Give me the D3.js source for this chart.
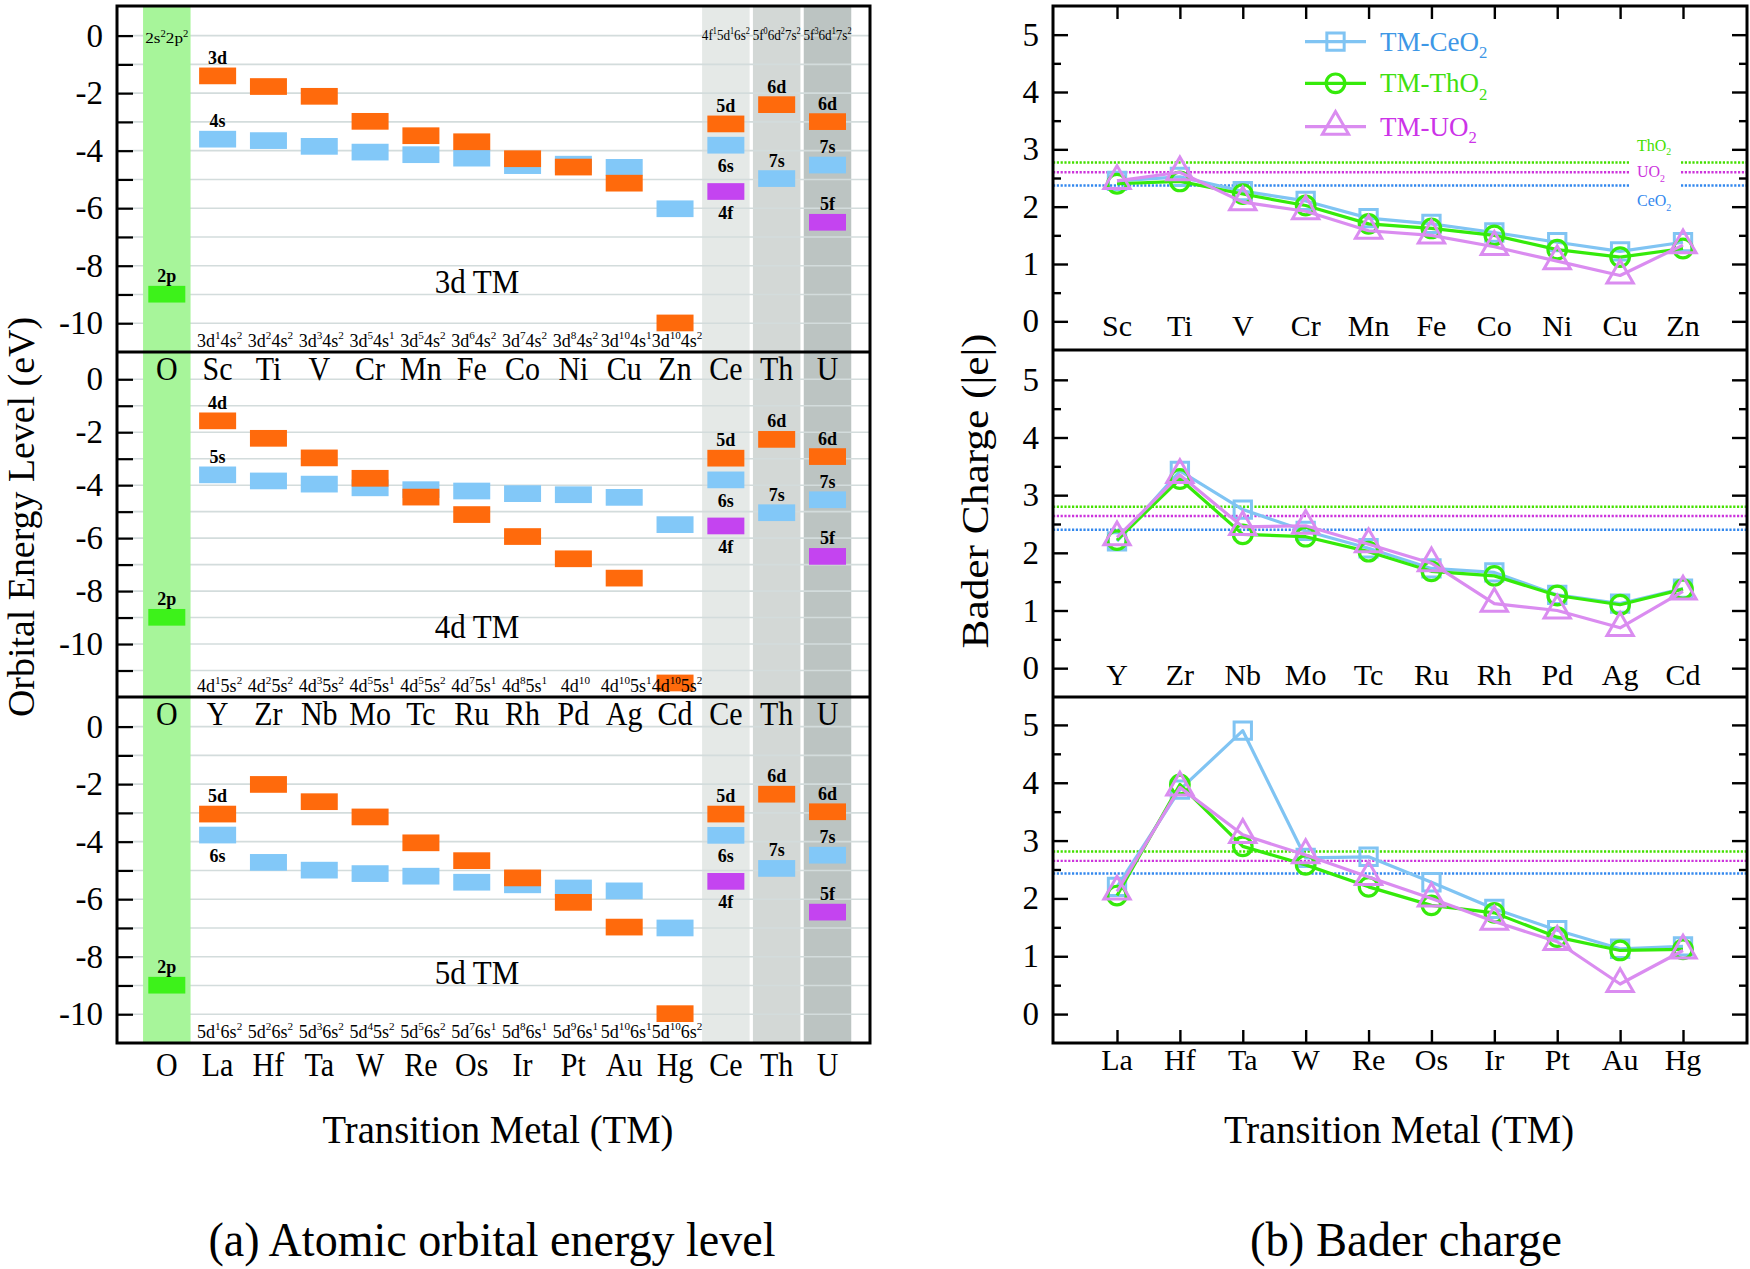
<!DOCTYPE html>
<html><head><meta charset="utf-8">
<script src="https://cdn.jsdelivr.net/npm/d3@7"></script>
<style>
body{margin:0;background:#fff}
text{font-family:"Liberation Serif","Times New Roman",Times,serif;fill:#000}
</style>
</head><body>
<svg id="c" width="1750" height="1269" xmlns="http://www.w3.org/2000/svg"></svg>
<script>
// ================= DATA =================
const cols3d = ["O","Sc","Ti","V","Cr","Mn","Fe","Co","Ni","Cu","Zn","Ce","Th","U"];
const cols4d = ["O","Y","Zr","Nb","Mo","Tc","Ru","Rh","Pd","Ag","Cd","Ce","Th","U"];
const cols5d = ["O","La","Hf","Ta","W","Re","Os","Ir","Pt","Au","Hg","Ce","Th","U"];
const energyTickLabels = [0,-2,-4,-6,-8,-10];

// orbital energies (eV) of the transition metals: d level (orange) and s level (blue)
const e3d_d = [-1.40,-1.77,-2.11,-2.98,-3.48,-3.69,-4.28,-4.57,-5.13,-9.99];
const e3d_s = [-3.60,-3.65,-3.85,-4.05,-4.14,-4.26,-4.52,-4.47,-4.58,-6.02];
const e4d_d = [-1.57,-2.23,-2.97,-3.74,-4.45,-5.11,-5.94,-6.78,-7.51,-11.47];
const e4d_s = [-3.61,-3.84,-3.96,-4.10,-4.17,-4.22,-4.32,-4.36,-4.46,-5.49];
const e5d_d = [-3.04,-2.01,-2.61,-3.14,-4.04,-4.66,-5.26,-6.11,-6.97,-9.98];
const e5d_s = [-3.77,-4.72,-4.99,-5.11,-5.20,-5.41,-5.50,-5.61,-5.71,-7.00];

// electron configurations
const cfg3d = ["3d^{1}4s^{2}","3d^{2}4s^{2}","3d^{3}4s^{2}","3d^{5}4s^{1}","3d^{5}4s^{2}","3d^{6}4s^{2}","3d^{7}4s^{2}","3d^{8}4s^{2}","3d^{10}4s^{1}","3d^{10}4s^{2}"];
const cfg4d = ["4d^{1}5s^{2}","4d^{2}5s^{2}","4d^{3}5s^{2}","4d^{5}5s^{1}","4d^{5}5s^{2}","4d^{7}5s^{1}","4d^{8}5s^{1}","4d^{10}","4d^{10}5s^{1}","4d^{10}5s^{2}"];
const cfg5d = ["5d^{1}6s^{2}","5d^{2}6s^{2}","5d^{3}6s^{2}","5d^{4}5s^{2}","5d^{5}6s^{2}","5d^{7}6s^{1}","5d^{8}6s^{1}","5d^{9}6s^{1}","5d^{10}6s^{1}","5d^{10}6s^{2}"];
const cfgRef = ["2s^{2}2p^{2}","4f^{1}5d^{1}6s^{2}","5f^{0}6d^{2}7s^{2}","5f^{3}6d^{1}7s^{2}"]; // O, Ce, Th, U

// reference atoms, per panel (3d, 4d, 5d rows)
const eO_2p  = [-8.99,-8.99,-8.99];
const eCe_5d = [-3.07,-2.98,-3.04];
const eCe_6s = [-3.81,-3.80,-3.78];
const eCe_4f = [-5.42,-5.54,-5.38];
const eTh_6d = [-2.40,-2.27,-2.35];
const eTh_7s = [-4.97,-5.04,-4.93];
const eU_6d  = [-2.99,-2.92,-2.96];
const eU_7s  = [-4.50,-4.55,-4.47];
const eU_5f  = [-6.49,-6.69,-6.45];

// Bader charges (|e|)
const tm3d = ["Sc","Ti","V","Cr","Mn","Fe","Co","Ni","Cu","Zn"];
const tm4d = ["Y","Zr","Nb","Mo","Tc","Ru","Rh","Pd","Ag","Cd"];
const tm5d = ["La","Hf","Ta","W","Re","Os","Ir","Pt","Au","Hg"];
const bader3d_CeO2 = [2.45,2.52,2.27,2.10,1.80,1.70,1.55,1.38,1.22,1.38];
const bader3d_ThO2 = [2.40,2.44,2.22,2.02,1.70,1.62,1.50,1.25,1.12,1.27];
const bader3d_UO2  = [2.45,2.60,2.08,1.92,1.58,1.50,1.30,1.05,0.80,1.33];
const bader4d_CeO2 = [2.20,3.42,2.75,2.38,2.08,1.73,1.66,1.27,1.12,1.38];
const bader4d_ThO2 = [2.22,3.28,2.32,2.28,2.02,1.68,1.60,1.26,1.10,1.37];
const bader4d_UO2  = [2.27,3.35,2.45,2.47,2.15,1.82,1.12,1.00,0.70,1.33];
const bader5d_CeO2 = [2.20,3.88,4.90,2.70,2.72,2.28,1.82,1.45,1.13,1.17];
const bader5d_ThO2 = [2.05,3.97,2.90,2.58,2.20,1.88,1.75,1.33,1.10,1.12];
const bader5d_UO2  = [2.12,3.92,3.10,2.75,2.37,2.00,1.60,1.25,0.52,1.10];
// bulk oxide cation charge reference lines, per panel
const bulkThO2 = [2.77,2.80,2.81];
const bulkUO2  = [2.60,2.64,2.65];
const bulkCeO2 = [2.37,2.40,2.43];
const baderTicks = [0,1,2,3,4,5];
const legendLabels = ["TM-CeO_{2}","TM-ThO_{2}","TM-UO_{2}"];
const bulkLabels = ["ThO_{2}","UO_{2}","CeO_{2}"];

// ================= STYLE / LAYOUT =================
const C = {
  orange:"#ff6a0c", blue:"#82c8f8", purple:"#c444f0", green2p:"#3df21a",
  bandO:"#a7f59a", bandCe:"#e5e9e7", bandTh:"#d3d8d6", bandU:"#bcc4c2",
  grid:"#d3dcdc",
  sCe:"#80c4f3", sTh:"#35ea0a", sU:"#da8cf0",
  tCe:"#3d97e6", tTh:"#40e010", tU:"#cc33e8",
  rTh:"#44e000", rU:"#cc33dd", rCe:"#3388ee"
};
const svg = d3.select("#c");

function rich(sel, str, fs){
  const re = /\^\{([^}]*)\}|_\{([^}]*)\}|([^\^_]+)/g;
  let m, off = 0;
  while((m = re.exec(str))){
    let t, target, small;
    if(m[1]!==undefined){t=m[1];target=-0.42*fs;small=true;}
    else if(m[2]!==undefined){t=m[2];target=0.28*fs;small=true;}
    else {t=m[3];target=0;small=false;}
    const ts = sel.append("tspan").text(t).attr("dy", target-off);
    if(small) ts.attr("font-size", fs*0.62);
    off = target;
  }
  return sel;
}
// stretch text vertically around its baseline (reference glyphs are taller)
function tall(sel, s){
  const y = +sel.attr("y");
  sel.attr("transform", `matrix(1,0,0,${s},0,${y*(1-s)})`);
  return sel;
}

// ---------- LEFT: orbital energy levels ----------
const LX0 = 117, LX1 = 870;
const xL = d3.scalePoint().domain(d3.range(14)).range([166.8, 827.5]);
const bandW = 47.5, barW = 37, barH = 16.7;
const rows = [
  {top:6, bottom:352, domain:[-11,1.03], nticks:11, cols:cols3d, d:e3d_d, s:e3d_s, cfg:cfg3d, name:"3d TM", dl:"3d", sl:"4s", sBelow:false},
  {top:352, bottom:697, domain:[-12,1.03], nticks:12, cols:cols4d, d:e4d_d, s:e4d_s, cfg:cfg4d, name:"4d TM", dl:"4d", sl:"5s", sBelow:false},
  {top:697, bottom:1043, domain:[-11,1.03], nticks:11, cols:cols5d, d:e5d_d, s:e5d_s, cfg:cfg5d, name:"5d TM", dl:"5d", sl:"6s", sBelow:true}
];
rows.forEach(r => r.y = d3.scaleLinear().domain(r.domain).range([r.bottom, r.top]));

const gL = svg.append("g");
[[11,C.bandCe],[12,C.bandTh],[13,C.bandU]].forEach(([i,c])=>{
  gL.append("rect").attr("x", xL(i)-bandW/2).attr("y", 6).attr("width", bandW).attr("height", 1043-6).attr("fill", c);
});
rows.forEach(r=>{
  d3.range(0, -r.nticks, -1).forEach(v=>{
    gL.append("line").attr("x1", LX0).attr("x2", LX1).attr("y1", r.y(v)).attr("y2", r.y(v))
      .attr("stroke", C.grid).attr("stroke-width", 1.6);
  });
});
gL.append("rect").attr("x", xL(0)-bandW/2).attr("y", 6).attr("width", bandW).attr("height", 1043-6).attr("fill", C.bandO);

function bar(r, i, v, color){
  gL.append("rect").attr("x", xL(i)-barW/2).attr("y", r.y(v)-barH/2).attr("width", barW).attr("height", barH).attr("fill", color);
}
function olabel(r, i, v, txt, below){
  gL.append("text").attr("x", xL(i)).attr("y", r.y(v) + (below ? 27 : -12))
    .attr("text-anchor","middle").attr("font-size",18).attr("font-weight","bold").text(txt);
}

rows.forEach((r, k)=>{
  for(let j=0;j<10;j++){
    bar(r, j+1, r.s[j], C.blue);
    bar(r, j+1, r.d[j], C.orange);
    const t = gL.append("text").attr("x", xL(j+1)+2).attr("y", r.bottom-5).attr("text-anchor","middle").attr("font-size",18);
    rich(t, r.cfg[j], 18);
  }
  olabel(r, 1, r.d[0], r.dl, false);
  olabel(r, 1, r.s[0], r.sl, r.sBelow);
  bar(r, 0, eO_2p[k], C.green2p); olabel(r, 0, eO_2p[k], "2p", false);
  bar(r, 11, eCe_5d[k], C.orange); olabel(r, 11, eCe_5d[k], "5d", false);
  bar(r, 11, eCe_6s[k], C.blue); olabel(r, 11, eCe_6s[k], "6s", true);
  bar(r, 11, eCe_4f[k], C.purple); olabel(r, 11, eCe_4f[k], "4f", true);
  bar(r, 12, eTh_6d[k], C.orange); olabel(r, 12, eTh_6d[k], "6d", false);
  bar(r, 12, eTh_7s[k], C.blue); olabel(r, 12, eTh_7s[k], "7s", false);
  bar(r, 13, eU_6d[k], C.orange); olabel(r, 13, eU_6d[k], "6d", false);
  bar(r, 13, eU_7s[k], C.blue); olabel(r, 13, eU_7s[k], "7s", false);
  bar(r, 13, eU_5f[k], C.purple); olabel(r, 13, eU_5f[k], "5f", false);
  tall(gL.append("text").attr("x", 477).attr("y", r.bottom-59).attr("text-anchor","middle").attr("font-size",31).text(r.name), 1.1);
  const ax = d3.axisLeft(r.y).tickValues(d3.range(0, -r.nticks, -1)).tickSize(-16).tickPadding(14)
    .tickFormat(d => energyTickLabels.includes(d) ? String(d) : "");
  const ga = gL.append("g").attr("transform", `translate(${LX0},0)`).call(ax);
  ga.select(".domain").remove();
  ga.selectAll(".tick line").attr("stroke","#000").attr("stroke-width",2.2);
  ga.selectAll(".tick text").attr("font-size",33).attr("font-family",'"Liberation Serif","Times New Roman",serif');
});
[0,11,12,13].forEach((ci, n)=>{
  const t = gL.append("text").attr("x", xL(ci)).attr("y", n===0 ? 43 : 40).attr("text-anchor","middle").attr("font-size",15)
    .attr("textLength", n===0 ? 43 : 48).attr("lengthAdjust","spacingAndGlyphs");
  rich(t, cfgRef[n], 15);
});
[[cols3d, 380],[cols4d, 725],[cols5d, 1076]].forEach(([cols, yb])=>{
  cols.forEach((c,i)=>{
    tall(gL.append("text").attr("x", xL(i)).attr("y", yb).attr("text-anchor","middle").attr("font-size",30).text(c), 1.12);
  });
});
gL.append("rect").attr("x",LX0).attr("y",6).attr("width",LX1-LX0).attr("height",1043-6).attr("fill","none").attr("stroke","#000").attr("stroke-width",3);
[352,697].forEach(y=>gL.append("line").attr("x1",LX0).attr("x2",LX1).attr("y1",y).attr("y2",y).attr("stroke","#000").attr("stroke-width",3));
gL.append("text").attr("transform","translate(34,517) rotate(-90)").attr("text-anchor","middle").attr("font-size",37)
  .attr("textLength",400).attr("lengthAdjust","spacingAndGlyphs").text("Orbital Energy Level (eV)");
tall(gL.append("text").attr("x",498).attr("y",1143).attr("text-anchor","middle").attr("font-size",37)
  .attr("textLength",351).attr("lengthAdjust","spacingAndGlyphs").text("Transition Metal (TM)"), 1.08);
tall(gL.append("text").attr("x",492).attr("y",1256).attr("text-anchor","middle").attr("font-size",44)
  .attr("textLength",567).attr("lengthAdjust","spacingAndGlyphs").text("(a) Atomic orbital energy level"), 1.08);

// ---------- RIGHT: Bader charge ----------
const RX0 = 1053, RX1 = 1747;
const xR = d3.scalePoint().domain(d3.range(10)).range([1117, 1683]);
const rpanels = [
  {top:6, bottom:350, cats:tm3d, ce:bader3d_CeO2, th:bader3d_ThO2, u:bader3d_UO2, labY:336, topTicks:true, botTicks:false, gap:true},
  {top:351, bottom:697, cats:tm4d, ce:bader4d_CeO2, th:bader4d_ThO2, u:bader4d_UO2, labY:685, topTicks:false, botTicks:false, gap:false},
  {top:696, bottom:1043, cats:tm5d, ce:bader5d_CeO2, th:bader5d_ThO2, u:bader5d_UO2, labY:1070, topTicks:false, botTicks:true, gap:false}
];
const gR = svg.append("g");
const sq = d3.symbol(d3.symbolSquare, 300)();
const tri = d3.symbol(d3.symbolTriangle, 300)();
function marker(g, type, x, y, color){
  if(type==="circle") g.append("circle").attr("cx",x).attr("cy",y).attr("r",9.3).attr("fill","none").attr("stroke",color).attr("stroke-width",3.2);
  else g.append("path").attr("d", type==="square"?sq:tri).attr("transform",`translate(${x},${y})`).attr("fill","none").attr("stroke",color).attr("stroke-width",3);
}
rpanels.forEach((p,k)=>{
  const y = d3.scaleLinear().domain([-0.5,5.5]).range([p.bottom, p.top]);
  [[bulkThO2[k],C.rTh],[bulkUO2[k],C.rU],[bulkCeO2[k],C.rCe]].forEach(([v,c])=>{
    const segs = p.gap ? [[RX0,1629],[1681,RX1]] : [[RX0,RX1]];
    segs.forEach(([a,b])=>gR.append("line").attr("x1",a).attr("x2",b).attr("y1",y(v)).attr("y2",y(v))
      .attr("stroke",c).attr("stroke-width",2.4).attr("stroke-dasharray","2.2,1.6"));
  });
  if(p.gap){
    [[bulkThO2[k],C.rTh,-12],[bulkUO2[k],C.rU,5],[bulkCeO2[k],C.rCe,21]].forEach(([v,c,dy],n)=>{
      const t = gR.append("text").attr("x",1637).attr("y",y(v)+dy).attr("font-size",16).style("fill",c);
      rich(t, bulkLabels[n], 16);
    });
  }
  const series = [[p.ce,C.sCe,"square"],[p.th,C.sTh,"circle"],[p.u,C.sU,"triangle"]];
  series.forEach(([vals,color,mk])=>{
    const line = d3.line().x((d,i)=>xR(i)).y(d=>y(d));
    gR.append("path").attr("d", line(vals)).attr("fill","none").attr("stroke",color).attr("stroke-width",3.2).attr("stroke-linejoin","round");
    vals.forEach((v,i)=>marker(gR, mk, xR(i), y(v), color));
  });
  p.cats.forEach((c,i)=>gR.append("text").attr("x",xR(i)).attr("y",p.labY).attr("text-anchor","middle").attr("font-size",30).text(c));
  const major = d3.axisLeft(y).tickValues(baderTicks).tickSize(-15).tickPadding(14).tickFormat(d=>String(d));
  const ga = gR.append("g").attr("transform",`translate(${RX0},0)`).call(major);
  ga.select(".domain").remove();
  ga.selectAll(".tick text").attr("font-size",33).attr("font-family",'"Liberation Serif","Times New Roman",serif');
  const minorV = baderTicks.map(d=>d+0.5).filter(d=>d<5.5);
  const gmin = gR.append("g").attr("transform",`translate(${RX0},0)`).call(d3.axisLeft(y).tickValues(minorV).tickSize(-8).tickFormat(""));
  gmin.select(".domain").remove();
  const gr1 = gR.append("g").attr("transform",`translate(${RX1},0)`).call(d3.axisRight(y).tickValues(baderTicks).tickSize(-15).tickFormat(""));
  gr1.select(".domain").remove();
  const gr2 = gR.append("g").attr("transform",`translate(${RX1},0)`).call(d3.axisRight(y).tickValues(minorV).tickSize(-8).tickFormat(""));
  gr2.select(".domain").remove();
  if(p.topTicks){
    const gt = gR.append("g").attr("transform",`translate(0,${p.top})`).call(d3.axisTop(xR).tickSize(-13).tickFormat(""));
    gt.select(".domain").remove();
  }
  if(p.botTicks){
    const gb = gR.append("g").attr("transform",`translate(0,${p.bottom})`).call(d3.axisBottom(xR).tickSize(-13).tickFormat(""));
    gb.select(".domain").remove();
  }
});
gR.selectAll(".tick line").attr("stroke","#000").attr("stroke-width",2.4);
[[C.sCe,"square",C.tCe],[C.sTh,"circle",C.tTh],[C.sU,"triangle",C.tU]].forEach(([c,mk,tc],n)=>{
  const ly = [41.7,83.3,126.7][n];
  gR.append("line").attr("x1",1305).attr("x2",1366).attr("y1",ly).attr("y2",ly).attr("stroke",c).attr("stroke-width",3.2);
  marker(gR, mk, 1335.5, ly, c);
  const t = gR.append("text").attr("x",1380).attr("y",ly+9).attr("font-size",27).style("fill",tc);
  rich(t, legendLabels[n], 27);
});
gR.append("rect").attr("x",RX0).attr("y",6).attr("width",RX1-RX0).attr("height",1043-6).attr("fill","none").attr("stroke","#000").attr("stroke-width",3);
[350,697].forEach(y=>gR.append("line").attr("x1",RX0).attr("x2",RX1).attr("y1",y).attr("y2",y).attr("stroke","#000").attr("stroke-width",3));
gR.append("text").attr("transform","translate(988,491) rotate(-90)").attr("text-anchor","middle").attr("font-size",37)
  .attr("textLength",315).attr("lengthAdjust","spacingAndGlyphs").text("Bader Charge (|e|)");
tall(gR.append("text").attr("x",1399).attr("y",1143).attr("text-anchor","middle").attr("font-size",37)
  .attr("textLength",350).attr("lengthAdjust","spacingAndGlyphs").text("Transition Metal (TM)"), 1.08);
tall(gR.append("text").attr("x",1406).attr("y",1256).attr("text-anchor","middle").attr("font-size",44)
  .attr("textLength",312).attr("lengthAdjust","spacingAndGlyphs").text("(b) Bader charge"), 1.08);
</script>
</body></html>
